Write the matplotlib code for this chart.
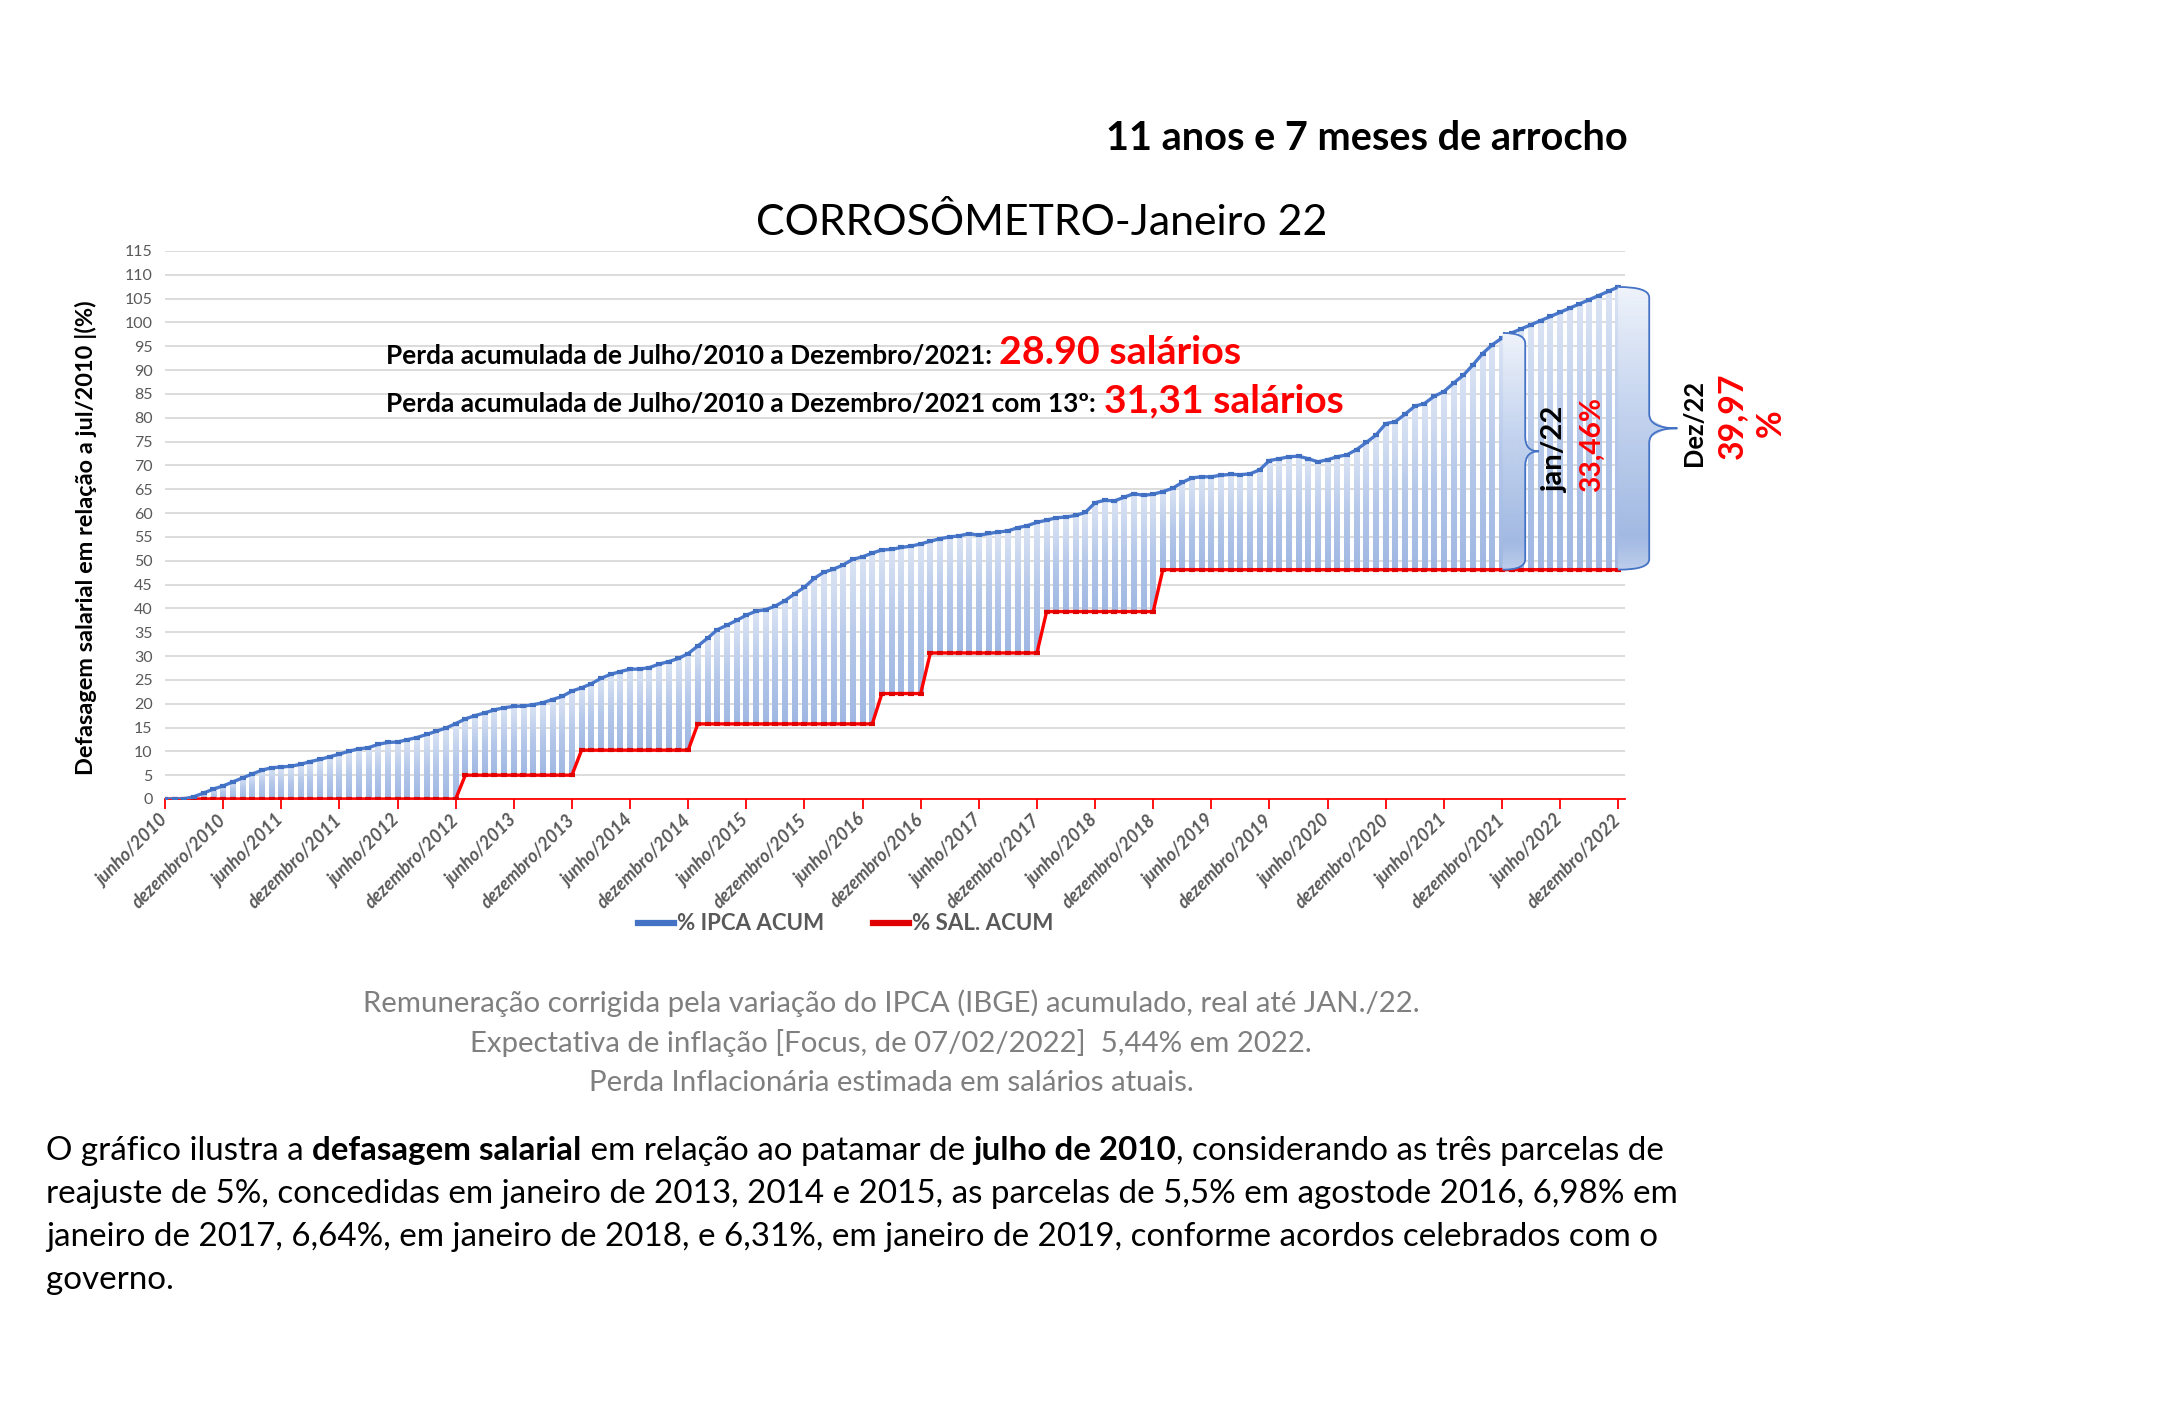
import numpy as np
import matplotlib
matplotlib.use("Agg")
import matplotlib.pyplot as plt
from matplotlib.path import Path
from matplotlib.patches import PathPatch
from matplotlib.lines import Line2D
from matplotlib.colors import LinearSegmentedColormap
from matplotlib.transforms import Bbox

# ---------------- data ----------------
ipca_2010 = [0.00, 0.01, 0.05, 0.50, 1.25, 2.09, 2.74]          # jun..dez
ipca_2011 = [3.59, 4.42, 5.24, 6.05, 6.55, 6.71, 6.88, 7.28, 7.85, 8.31, 8.87, 9.42]
ipca_2012 = [10.03, 10.53, 10.76, 11.47, 11.87, 11.96, 12.44, 12.90, 13.54, 14.21, 14.90, 15.81]
ipca_2013 = [16.80, 17.50, 18.06, 18.71, 19.14, 19.45, 19.49, 19.78, 20.20, 20.88, 21.53, 22.65]
ipca_2014 = [23.33, 24.18, 25.32, 26.16, 26.74, 27.25, 27.26, 27.58, 28.31, 28.84, 29.50, 30.51]
ipca_2015 = [32.13, 33.74, 35.51, 36.47, 37.48, 38.57, 39.42, 39.73, 40.49, 41.64, 43.07, 44.44]
ipca_2016 = [46.28, 47.59, 48.23, 49.13, 50.30, 50.82, 51.61, 52.27, 52.39, 52.79, 53.07, 53.52]
ipca_2017 = [54.11, 54.62, 55.00, 55.22, 55.70, 55.34, 55.72, 56.01, 56.26, 56.92, 57.36, 58.05]
ipca_2018 = [58.51, 59.02, 59.16, 59.51, 60.15, 62.17, 62.70, 62.55, 63.33, 64.07, 63.72, 63.97]
ipca_2019 = [64.50, 65.20, 66.44, 67.39, 67.61, 67.62, 67.94, 68.13, 68.06, 68.23, 69.09, 71.03]
ipca_2020 = [71.39, 71.82, 71.94, 71.41, 70.75, 71.20, 71.82, 72.23, 73.33, 74.82, 76.38, 78.76]
ipca_2021 = [79.20, 80.75, 82.43, 82.99, 84.51, 85.49, 87.27, 88.90, 91.09, 93.48, 95.32, 96.74]
ipca_2022 = [97.80, 98.66, 99.52, 100.39, 101.26, 102.13, 103.01, 103.89, 104.77, 105.66, 106.55, 107.45]

sal_2010 = [0.00, 0.00, 0.00, 0.00, 0.00, 0.00, 0.00]
sal_2011 = [0.00, 0.00, 0.00, 0.00, 0.00, 0.00, 0.00, 0.00, 0.00, 0.00, 0.00, 0.00]
sal_2012 = [0.00, 0.00, 0.00, 0.00, 0.00, 0.00, 0.00, 0.00, 0.00, 0.00, 0.00, 0.00]
sal_2013 = [5.00, 5.00, 5.00, 5.00, 5.00, 5.00, 5.00, 5.00, 5.00, 5.00, 5.00, 5.00]
sal_2014 = [10.25, 10.25, 10.25, 10.25, 10.25, 10.25, 10.25, 10.25, 10.25, 10.25, 10.25, 10.25]
sal_2015 = [15.76, 15.76, 15.76, 15.76, 15.76, 15.76, 15.76, 15.76, 15.76, 15.76, 15.76, 15.76]
sal_2016 = [15.76, 15.76, 15.76, 15.76, 15.76, 15.76, 15.76, 22.13, 22.13, 22.13, 22.13, 22.13]
sal_2017 = [30.65, 30.65, 30.65, 30.65, 30.65, 30.65, 30.65, 30.65, 30.65, 30.65, 30.65, 30.65]
sal_2018 = [39.33, 39.33, 39.33, 39.33, 39.33, 39.33, 39.33, 39.33, 39.33, 39.33, 39.33, 39.33]
sal_2019 = [48.12, 48.12, 48.12, 48.12, 48.12, 48.12, 48.12, 48.12, 48.12, 48.12, 48.12, 48.12]
sal_2020 = [48.12, 48.12, 48.12, 48.12, 48.12, 48.12, 48.12, 48.12, 48.12, 48.12, 48.12, 48.12]
sal_2021 = [48.12, 48.12, 48.12, 48.12, 48.12, 48.12, 48.12, 48.12, 48.12, 48.12, 48.12, 48.12]
sal_2022 = [48.12, 48.12, 48.12, 48.12, 48.12, 48.12, 48.12, 48.12, 48.12, 48.12, 48.12, 48.12]

tick_labels = ["junho/2010", "dezembro/2010", "junho/2011", "dezembro/2011",
               "junho/2012", "dezembro/2012", "junho/2013", "dezembro/2013",
               "junho/2014", "dezembro/2014", "junho/2015", "dezembro/2015",
               "junho/2016", "dezembro/2016", "junho/2017", "dezembro/2017",
               "junho/2018", "dezembro/2018", "junho/2019", "dezembro/2019",
               "junho/2020", "dezembro/2020", "junho/2021", "dezembro/2021",
               "junho/2022", "dezembro/2022"]
y_ticks = [0, 5, 10, 15, 20, 25, 30, 35, 40, 45, 50, 55, 60, 65, 70, 75, 80, 85,
           90, 95, 100, 105, 110, 115]

brace_months = ["jan/22", "Dez/22"]
brace_index = [139, 150]
brace_values = ["33,46%", "39,97"]

ipca = np.array(ipca_2010 + ipca_2011 + ipca_2012 + ipca_2013 + ipca_2014 + ipca_2015 +
                ipca_2016 + ipca_2017 + ipca_2018 + ipca_2019 + ipca_2020 + ipca_2021 + ipca_2022)
sal = np.array(sal_2010 + sal_2011 + sal_2012 + sal_2013 + sal_2014 + sal_2015 +
               sal_2016 + sal_2017 + sal_2018 + sal_2019 + sal_2020 + sal_2021 + sal_2022)
x = np.arange(len(ipca))

# ---------------- figure ----------------
W, H = 2176, 1408
FONT = "Lato"
plt.rcParams["font.family"] = [FONT, "DejaVu Sans"]
fig = plt.figure(figsize=(W / 100, H / 100), dpi=100)
fig.patch.set_facecolor("white")

ax_l, ax_r, ax_t, ax_b = 165, 1625, 251, 799
ax = fig.add_axes([ax_l / W, 1 - ax_b / H, (ax_r - ax_l) / W, (ax_b - ax_t) / H])

bar_cmap = LinearSegmentedColormap.from_list("bar", ["#9fb7e2", "#b5c8ea", "#dbe4f4"])
brace_cmap = LinearSegmentedColormap.from_list(
    "brace", [(0.0, "#bccdeb"), (0.12, "#a2b9e2"), (0.6, "#c6d5ef"), (1.0, "#eef2fa")])
grad = np.linspace(0, 1, 128).reshape(-1, 1)

bw = 0.6
for xi, lo, hi in zip(x, sal, ipca):
    if hi - lo > 0.05:
        ax.imshow(grad, extent=(xi - bw / 2, xi + bw / 2, lo, hi), origin="lower",
                  aspect="auto", cmap=bar_cmap, interpolation="bilinear", zorder=2)

# lines with dash markers
ax.plot(x, sal, color="#ff0000", lw=2.4, zorder=4, solid_joinstyle="round")
ax.plot(x, sal, ls="none", marker="_", ms=5, mew=3.0, color="#e00000", zorder=5)
ax.plot(x, ipca, color="#4a78cc", lw=2.4, zorder=4, solid_joinstyle="round")
ax.plot(x, ipca, ls="none", marker="_", ms=5, mew=3.0, color="#4170c2", zorder=5)

ax.set_xlim(0, 150.7)
ax.set_ylim(0, 115)
ax.set_yticks(y_ticks)
ax.yaxis.grid(True, color="#d9d9d9", lw=1.3)
ax.set_axisbelow(True)
for s in ["left", "right", "top"]:
    ax.spines[s].set_visible(False)
ax.spines["bottom"].set_color("#ff0000")
ax.spines["bottom"].set_linewidth(1.3)
ax.tick_params(axis="y", length=0, labelsize=11.5, labelcolor="#595959", pad=9)
ax.set_xticks(x[::6])
ax.set_xticklabels(tick_labels, rotation=45, ha="right", va="center",
                   rotation_mode="anchor", fontstyle="italic", fontweight="bold",
                   color="#595959", fontsize=13)
ax.tick_params(axis="x", direction="out", length=7, width=1.3, color="#ff0000", pad=6)


# braces (gradient filled in horizontal bands)
def brace(xi, x0off, x1off, xtoff, c=2.2, d=3.0, nb=90):
    bot, top = sal[xi], ipca[xi]
    x0, x1, xt = xi + x0off, xi + x1off, xi + xtoff
    mid = (top + bot) / 2
    verts = [(x0, top), (x1, top), (x1, top - c), (x1, mid + d), (x1, mid), (xt, mid),
             (x1, mid), (x1, mid - d), (x1, bot + c), (x1, bot), (x0, bot), (x0, top)]
    codes = [Path.MOVETO, Path.CURVE3, Path.CURVE3, Path.LINETO, Path.CURVE3, Path.CURVE3,
             Path.CURVE3, Path.CURVE3, Path.LINETO, Path.CURVE3, Path.CURVE3, Path.CLOSEPOLY]
    path = Path(verts, codes)
    poly = Path(path.to_polygons(closed_only=True)[0], closed=True)
    edges = np.linspace(bot, top, nb + 1)
    for k in range(nb):
        band = poly.clip_to_bbox(Bbox([[x0 - 1, edges[k]], [xt + 1, edges[k + 1]]]),
                                 inside=True)
        if len(band.vertices) == 0:
            continue
        col = brace_cmap((k + 0.5) / nb)
        ax.add_patch(PathPatch(band, facecolor=col, edgecolor=col, lw=0.6,
                               zorder=6, clip_on=False))
    outline = Path(verts[:-1], codes[:-1])
    ax.add_patch(PathPatch(outline, facecolor="none", edgecolor="#4472c4", lw=1.3,
                           zorder=7, clip_on=False))


brace(brace_index[0], -0.9, 1.4, 2.8)
brace(brace_index[1], 0.0, 3.2, 6.1)
ax.set_xlim(0, 150.7)
ax.set_ylim(0, 115)

# legend
handles = [Line2D([], [], color="#4472c4", lw=4.5), Line2D([], [], color="#e00000", lw=4.5)]
fig.legend(handles, ["% IPCA ACUM", "% SAL. ACUM"], loc="center",
           bbox_to_anchor=(846 / W, 1 - 924 / H), ncol=2, frameon=False,
           handlelength=1.6, handletextpad=0.15, columnspacing=2.2,
           prop={"family": FONT, "weight": "bold", "size": 16}, labelcolor="#595959")

fig.canvas.draw()
R = fig.canvas.get_renderer()


def fx(px):
    return px / W


def fy(py):
    return 1 - py / H


def place(px, py, s, size, **kw):
    return fig.text(fx(px), fy(py), s, fontsize=size, **kw)


def fit(px, py, s, target, size0=20, vertical=False, **kw):
    t = place(px, py, s, size0, **kw)
    bb = t.get_window_extent(R)
    w = bb.height if vertical else bb.width
    t.set_fontsize(size0 * target / w)
    return t


def adv(s, size, weight):
    t = fig.text(0, 0, s + "|", fontsize=size, fontweight=weight)
    t2 = fig.text(0, 0, "|", fontsize=size, fontweight=weight)
    w = t.get_window_extent(R).width - t2.get_window_extent(R).width
    t.remove()
    t2.remove()
    return w


# headings
fit(1628, 150, "11 anos e 7 meses de arrocho", 521, ha="right", va="baseline",
    fontweight="bold", color="black")
fit(1042, 235, "CORROSÔMETRO-Janeiro 22", 572, ha="center", va="baseline", color="black")

# annotations in plot
fit(386, 364, "Perda acumulada de Julho/2010 a Dezembro/2021:", 604, ha="left",
    va="baseline", fontweight="bold", color="black")
fit(999, 364, "28.90 salários", 242, ha="left", va="baseline", fontweight="bold",
    color="#ff0000")
fit(386, 412, "Perda acumulada de Julho/2010 a Dezembro/2021 com 13º:", 709, ha="left",
    va="baseline", fontweight="bold", color="black")
fit(1104, 412, "31,31 salários", 239, ha="left", va="baseline", fontweight="bold",
    color="#ff0000")

# y label
fit(86, 538, "Defasagem salarial em relação a jul/2010 |(%)", 472, vertical=True,
    rotation=90, ha="center", va="center", fontweight="bold", color="black")

# brace labels
fit(1555, 450, brace_months[0], 86, vertical=True, rotation=90, ha="center", va="center",
    fontweight="bold", color="black")
fit(1592, 444, brace_values[0], 95, vertical=True, rotation=90, ha="center", va="center",
    fontweight="bold", color="#ff0000")
fit(1694, 423, brace_months[1], 86, vertical=True, rotation=90, ha="center", va="center",
    fontweight="bold", color="black")
t399 = fit(1732, 416, brace_values[1], 86, vertical=True, rotation=90, ha="center",
           va="center", fontweight="bold", color="#ff0000")
place(1771, 423, "%", t399.get_fontsize(), rotation=90, ha="center", va="center",
      fontweight="bold", color="#ff0000")

# notes
notes = ["Remuneração corrigida pela variação do IPCA (IBGE) acumulado, real até JAN./22.",
         "Expectativa de inflação [Focus, de 07/02/2022]  5,44% em 2022.",
         "Perda Inflacionária estimada em salários atuais."]
t0 = fit(891, 1012, notes[0], 1058, ha="center", va="baseline", color="#7f7f7f")
ns = t0.get_fontsize()
place(891, 1052, notes[1], ns, ha="center", va="baseline", color="#7f7f7f")
place(891, 1091, notes[2], ns, ha="center", va="baseline", color="#7f7f7f")

# paragraph with bold runs
para = [
    [("O gráfico ilustra a ", "normal"), ("defasagem salarial", "bold"),
     (" em relação ao patamar de ", "normal"), ("julho de 2010", "bold"),
     (", considerando as três parcelas de", "normal")],
    [("reajuste de 5%, concedidas em janeiro de 2013, 2014 e 2015, as parcelas de 5,5% em "
      "agostode 2016, 6,98% em", "normal")],
    [("janeiro de 2017, 6,64%, em janeiro de 2018, e 6,31%, em janeiro de 2019, conforme "
      "acordos celebrados com o", "normal")],
    [("governo.", "normal")],
]
base = 20
tot = sum(adv(s, base, wt) for s, wt in para[0])
psize = base * (1665 - 46) / tot
baselines = [1160, 1203, 1246, 1289]
for line, by in zip(para, baselines):
    cx = 46
    for s, wt in line:
        place(cx, by, s, psize, ha="left", va="baseline", fontweight=wt, color="black")
        cx += adv(s, psize, wt)

fig.savefig("out.png", dpi=100, facecolor="white")
